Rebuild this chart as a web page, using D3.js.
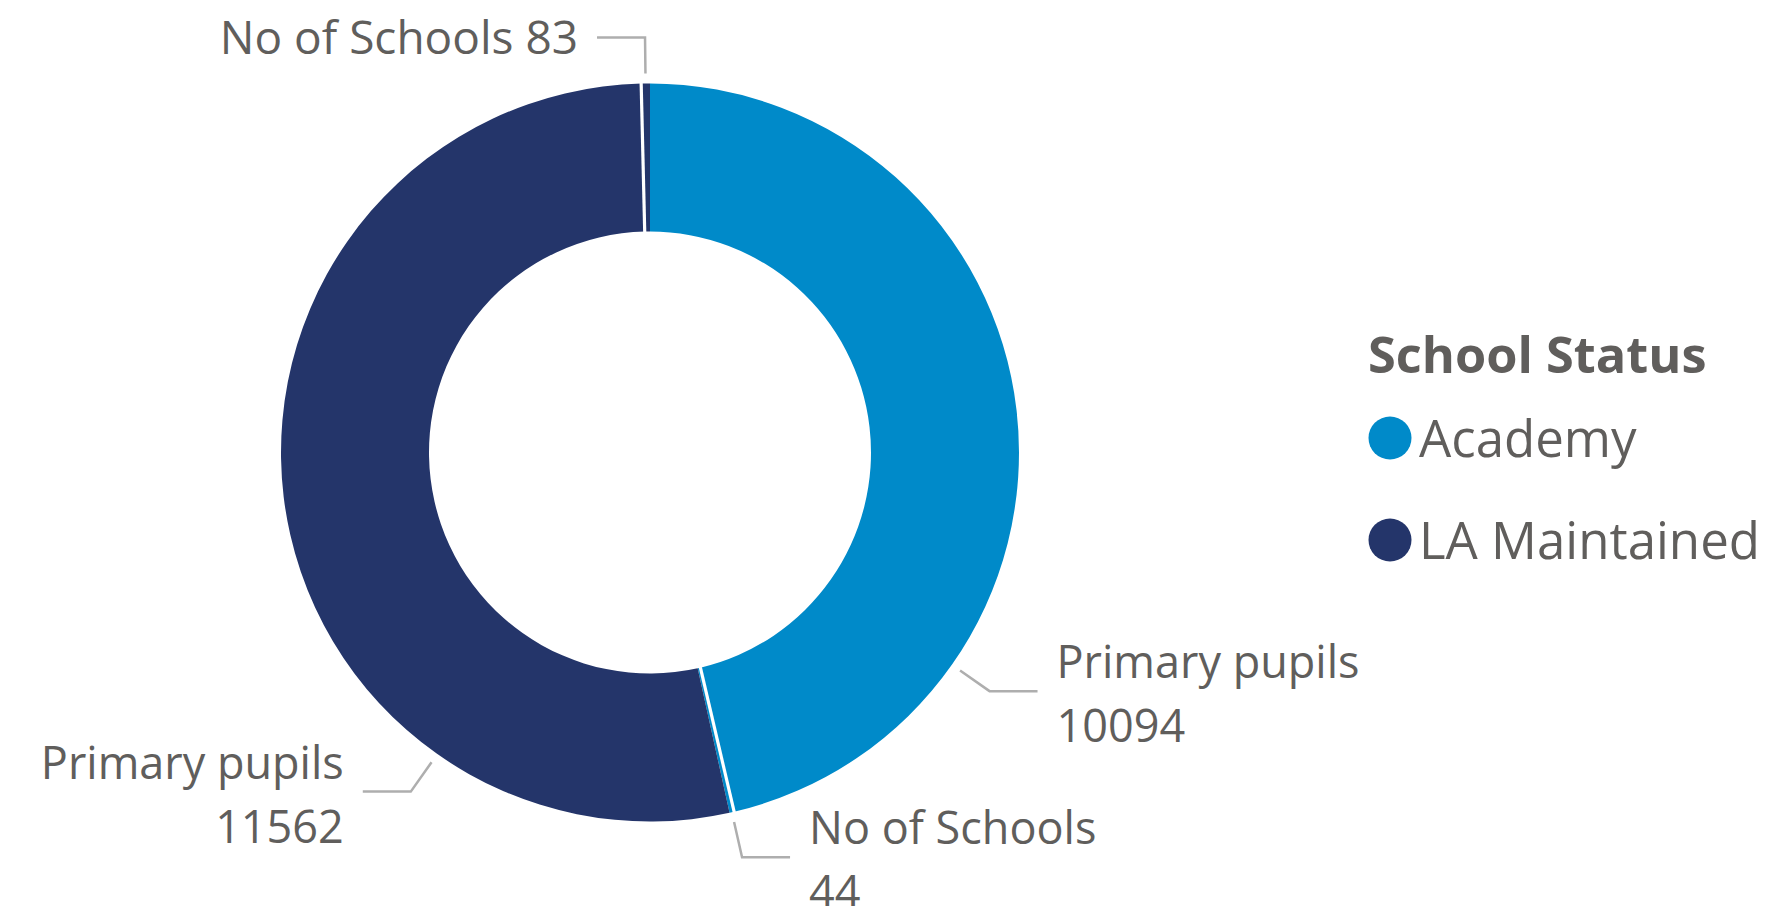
<!DOCTYPE html>
<html><head><meta charset="utf-8">
<script src="https://cdn.jsdelivr.net/npm/d3@7"></script>
<style>
html,body{margin:0;padding:0;background:#fff;}
svg text{font-family:"Segoe UI","Open Sans","Noto Sans",sans-serif;fill:#605E5C;}
</style></head><body>
<svg id="chart" width="1768" height="906"></svg>
<script>
// data
const statuses = ["Academy", "LA Maintained"];
const measures = ["Primary pupils", "No of Schools"];
const academyValues = [10094, 44];
const laValues = [11562, 83];
const legendTitle = "School Status";

// colours / layout (not data)
const colors = {"Academy": "#008AC9", "LA Maintained": "#24356A"};
const labelAngles = [125.1, null, 215.2, null]; // degrees; null => slice middle
const cx = 650, cy = 452.5, rOuter = 369, rInner = 221;

const slices = [];
statuses.forEach((s, i) => {
  const vals = i === 0 ? academyValues : laValues;
  measures.forEach((m, j) => slices.push({status: s, measure: m, value: vals[j]}));
});

const svg = d3.select("#chart");
const g = svg.append("g").attr("transform", `translate(${cx},${cy})`);
const pie = d3.pie().value(d => d.value).sort(null);
const arcs = pie(slices);
const arc = d3.arc().innerRadius(rInner).outerRadius(rOuter);

g.selectAll("path.slice").data(arcs).enter().append("path")
  .attr("class", "slice")
  .attr("d", arc)
  .attr("fill", d => colors[d.data.status]);

// white separators at end of each large slice
g.selectAll("line.sep").data(arcs.filter(d => d.data.measure === "Primary pupils")).enter()
  .append("line")
  .attr("x1", d => (rInner - 2) * Math.sin(d.endAngle))
  .attr("y1", d => -(rInner - 2) * Math.cos(d.endAngle))
  .attr("x2", d => (rOuter + 2) * Math.sin(d.endAngle))
  .attr("y2", d => -(rOuter + 2) * Math.cos(d.endAngle))
  .attr("stroke", "#fff").attr("stroke-width", 3.2);

// labels
const r1 = 379, r2 = 415, hLen = 48, gap = 19;
arcs.forEach((d, i) => {
  const a = labelAngles[i] != null ? labelAngles[i] * Math.PI / 180 : (d.startAngle + d.endAngle) / 2;
  const p1 = [r1 * Math.sin(a), -r1 * Math.cos(a)];
  const p2 = [r2 * Math.sin(a), -r2 * Math.cos(a)];
  const right = Math.sin(a) > 0.001;
  const dir = right ? 1 : -1;
  const p3 = [p2[0] + dir * hLen, p2[1]];
  g.append("polyline")
    .attr("points", [p1, p2, p3].map(p => p.join(",")).join(" "))
    .attr("fill", "none").attr("stroke", "#AEAEAE").attr("stroke-width", 2.5);
  const tx = p3[0] + dir * gap;
  const anchor = right ? "start" : "end";
  const singleLine = !right && Math.abs(Math.sin(a)) < 0.05;
  const t = g.append("text").attr("text-anchor", anchor).style("font-size", "45px");
  if (singleLine) {
    t.attr("x", tx).attr("y", p3[1] + 16).style("font-size", "46px").text(d.data.measure + " " + d.data.value);
  } else {
    t.append("tspan").attr("x", tx).attr("y", p3[1] - 13).text(d.data.measure);
    t.append("tspan").attr("x", tx).attr("y", p3[1] + 51).text(d.data.value);
  }
});

// legend
const lg = svg.append("g");
lg.append("text").attr("x", 1368).attr("y", 373)
  .style("font-size", "50.5px").style("font-weight", "bold").text(legendTitle);
statuses.forEach((s, i) => {
  const y = 438 + i * 102;
  lg.append("circle").attr("cx", 1390).attr("cy", y).attr("r", 21.5).attr("fill", colors[s]);
  lg.append("text").attr("x", 1419).attr("y", y + 19).style("font-size", "51px").text(s);
});
</script></body></html>
